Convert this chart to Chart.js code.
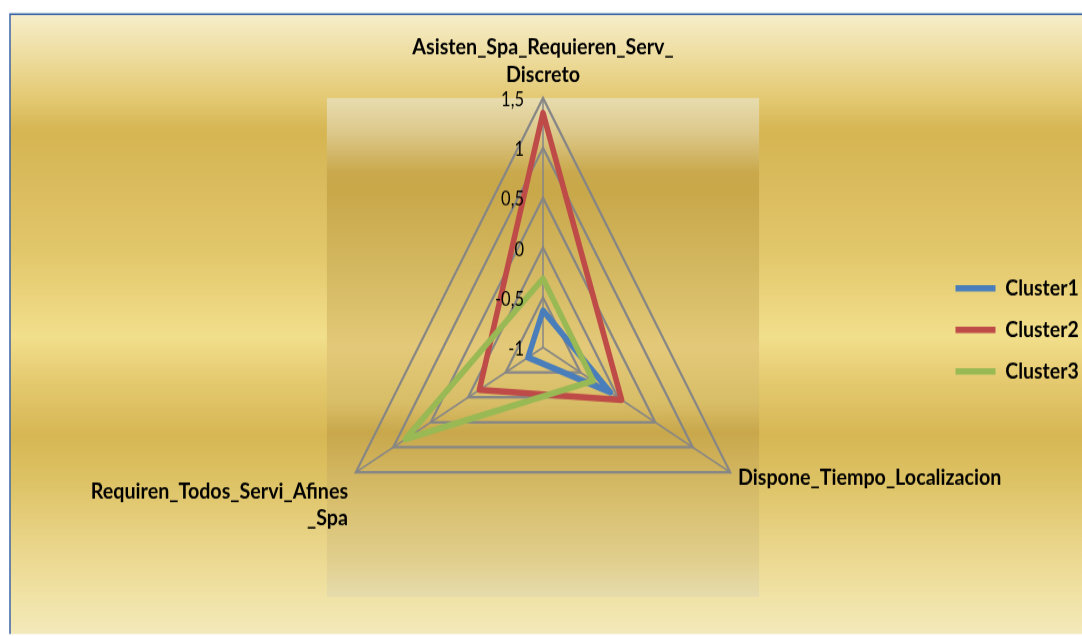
<!DOCTYPE html>
<html>
<head>
<meta charset="utf-8">
<script src="https://cdn.jsdelivr.net/npm/chart.js@4.4.0/dist/chart.umd.min.js"></script>
<style>
html, body { margin: 0; padding: 0; background: #fff; }
</style>
</head>
<body>
<canvas id="radar" width="1082" height="551" style="display:block;width:1082px;height:636px"></canvas>
<script>
var axisLabels = [['Asisten_Spa_Requieren_Serv_', 'Discreto'], 'Dispone_Tiempo_Localizacion', ['Requiren_Todos_Servi_Afines', '_Spa']];
var seriesNames = ['Cluster1', 'Cluster2', 'Cluster3'];
var cluster1 = [-0.63, -0.1, -0.8];
var cluster2 = [1.35, 0.05, -0.15];
var cluster3 = [-0.31, -0.33, 0.84];
var tickLabels = ['-1', '-0,5', '0', '0,5', '1', '1,5'];
var seriesColors = ['#4a7ebb', '#be4b48', '#98b954'];

// the original picture is stretched vertically, so the canvas is drawn flat
// and css stretches it back to 636px
var SY = 636 / 551;
var FONT = "Lato, 'Noto Sans', sans-serif";

function addStops(g, stops) {
    stops.forEach(function(s) { g.addColorStop(s[0], s[1]); });
}

var goldPlugin = {
    id: 'goldBackground',
    afterLayout: function(chart) {
        // legend sits on the right, outside of the radar's layout
        var lg = chart.legend;
        var w = lg.width;
        lg.left = 939;
        lg.right = lg.left + w;
        lg.top = 223.5;
        lg.bottom = lg.top + 200;
    },
    beforeDraw: function(chart) {
        var ctx = chart.ctx;
        var left = 10, top = 14 / SY, bottom = 634 / SY;
        ctx.save();
        var g = ctx.createLinearGradient(0, top, 0, bottom);
        addStops(g, [
            [0, '#f7eecb'], [0.06, '#efdfa4'], [0.14, '#e3c870'], [0.19, '#d6b552'],
            [0.26, '#d9bb5c'], [0.38, '#e2c66a'], [0.52, '#f2df8c'], [0.59, '#e5ca70'],
            [0.68, '#d7b754'], [0.75, '#ddc264'], [0.85, '#e9d488'], [0.94, '#f1e3a6'],
            [1, '#f3e9ba']
        ]);
        ctx.fillStyle = g;
        ctx.fillRect(left, top, chart.width - left, bottom - top);
        ctx.strokeStyle = '#3b64a5';
        ctx.lineWidth = 1.5;
        ctx.beginPath();
        ctx.moveTo(left, bottom);
        ctx.lineTo(left, top);
        ctx.lineTo(chart.width, top);
        ctx.stroke();

        // plot area square around the radar
        var sc = chart.scales.r;
        var r = sc.drawingArea;
        var g2 = ctx.createLinearGradient(0, sc.yCenter - r, 0, sc.yCenter + r);
        addStops(g2, [
            [0, '#e8ddb0'], [0.07, '#dcc88a'], [0.15, '#caa94c'], [0.19, '#c9a84a'],
            [0.33, '#d3b75f'], [0.5, '#e3c979'], [0.61, '#d9be68'], [0.67, '#c9a84c'],
            [0.81, '#d8bf6e'], [0.93, '#e1cf8e'], [1, '#e6dcad']
        ]);
        ctx.fillStyle = g2;
        ctx.fillRect(sc.xCenter - r, sc.yCenter - r, 2 * r, 2 * r);
        ctx.restore();
    },
    afterDatasetsDraw: function(chart) {
        // tick labels sit left of the vertical axis, right aligned
        var ctx = chart.ctx;
        var sc = chart.scales.r;
        ctx.save();
        ctx.font = '16.5px ' + FONT;
        ctx.fillStyle = '#000';
        ctx.textAlign = 'right';
        ctx.textBaseline = 'middle';
        sc.ticks.forEach(function(t, i) {
            var p = sc.getPointPositionForValue(0, t.value);
            ctx.fillText(tickLabels[i], p.x - 19, p.y + 2 / SY);
        });
        ctx.restore();
    }
};

var ctx = document.getElementById('radar').getContext('2d');

var datasets = [cluster1, cluster2, cluster3].map(function(values, i) {
    return {
        label: seriesNames[i],
        data: values,
        borderColor: seriesColors[i],
        backgroundColor: seriesColors[i],
        borderWidth: 5.5,
        borderJoinStyle: 'round',
        borderCapStyle: 'round',
        fill: false,
        pointRadius: 0,
        pointHoverRadius: 0,
        order: 3 - i
    };
});

var radarChart = new Chart(ctx, {
    type: 'radar',
    data: {
        labels: axisLabels,
        datasets: datasets
    },
    options: {
        responsive: false,
        devicePixelRatio: 1,
        animation: false,
        layout: {
            padding: { left: 10, right: 5, top: 2, bottom: 4 }
        },
        scales: {
            r: {
                min: -1,
                max: 1.5,
                ticks: { stepSize: 0.5, display: false },
                grid: { color: '#868686', lineWidth: 2.2 },
                angleLines: { color: '#868686', lineWidth: 1.5 },
                pointLabels: {
                    color: '#000',
                    padding: 9,
                    font: function(c) {
                        // single line label on the right sits level with its vertex
                        return { family: FONT, size: 19.7, weight: 'bold', lineHeight: c.index === 1 ? 0.05 : 1.19 };
                    }
                }
            }
        },
        plugins: {
            legend: {
                position: 'chartArea',
                align: 'start',
                labels: {
                    usePointStyle: true,
                    pointStyle: 'line',
                    pointStyleWidth: 40,
                    padding: 16.5,
                    color: '#000',
                    font: { family: FONT, size: 19.5, weight: 'bold' },
                    sort: function(a, b) { return a.datasetIndex - b.datasetIndex; }
                }
            },
            tooltip: { enabled: false }
        }
    },
    plugins: [goldPlugin]
});
</script>
</body>
</html>
